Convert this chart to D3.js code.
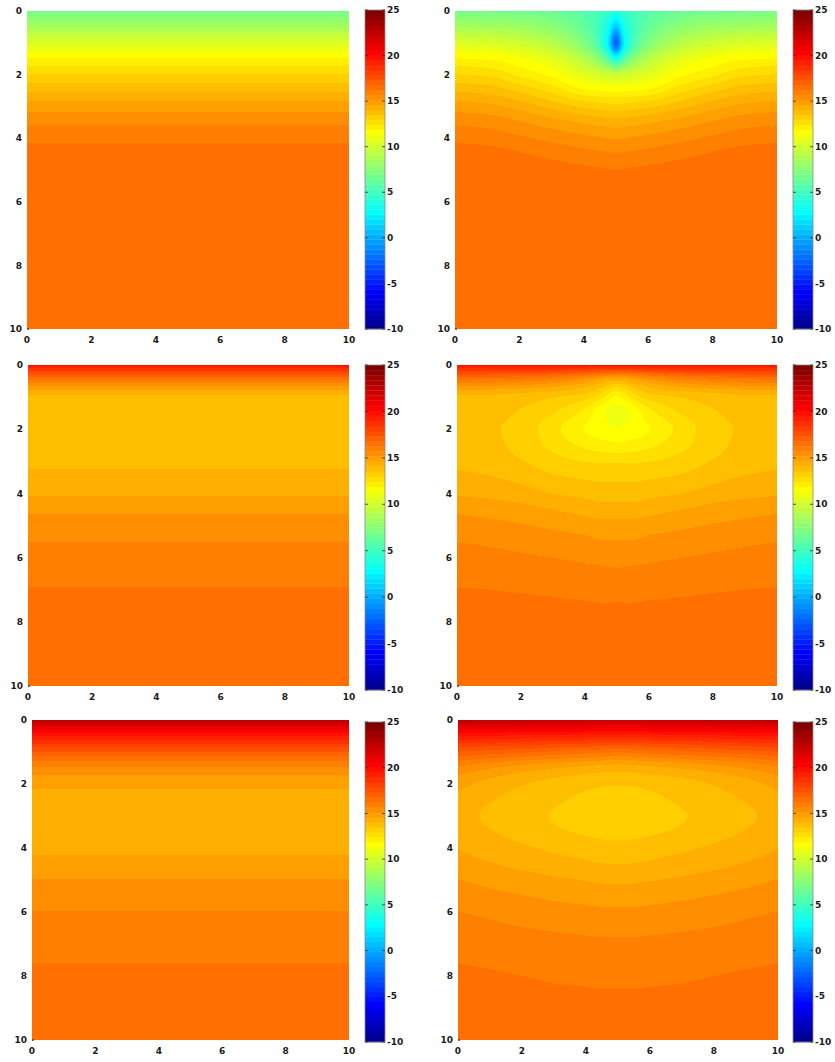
<!DOCTYPE html>
<html>
<head>
<meta charset="utf-8">
<script src="https://cdn.jsdelivr.net/npm/d3@7"></script>
<style>
  body { margin: 0; background: #fff; }
  svg { display: block; }
  text { font-family: "DejaVu Sans", sans-serif; font-weight: bold; font-size: 9px; fill: #1a1a1a; }
</style>
</head>
<body>
<svg id="chart" width="835" height="1062"></svg>
<script>
// tick labels
const xTicks = [0, 2, 4, 6, 8, 10];
const yTicks = [0, 2, 4, 6, 8, 10];
const cbTicks = [-10, -5, 0, 5, 10, 15, 20, 25];

// grid positions
const depths = [0, 0.5, 1, 1.5, 2, 2.5, 3, 3.5, 4, 4.5, 5, 5.5, 6, 7, 8, 10];
const xsEdge = [0, 10];
const xsCoarse = [0, 1, 2, 3, 4, 4.5, 5, 5.5, 6, 7, 8, 9, 10];
const xsFine = [0, 1, 2, 3, 4, 4.5, 4.75, 5, 5.25, 5.5, 6, 7, 8, 9, 10];

// left column: values only change with depth
const profileA = [6.8, 8.6, 10.4, 11.9, 13.0, 14.0, 14.9, 15.6, 16.1, 16.5, 16.5, 16.5, 16.5, 16.5, 16.5, 16.5];
const profileB = [19.8, 16.0, 14.0, 13.8, 13.75, 13.8, 13.95, 14.2, 14.55, 15.05, 15.4, 15.7, 15.9, 16.27, 16.45, 16.55];
const profileC = [22.6, 19.6, 17.3, 15.6, 14.75, 14.4, 14.3, 14.3, 14.45, 14.85, 15.18, 15.45, 15.72, 16.05, 16.35, 16.55];

// right column: one row per depth, one value per x position
const gridA = [
  [6.8, 6.8, 6.7, 6.4, 5.7, 5.1, 4.6, 4.3, 4.6, 5.1, 5.7, 6.4, 6.7, 6.8, 6.8],
  [8.6, 8.5, 8.3, 7.7, 6.3, 4.8, 3.4, 1.0, 3.4, 4.8, 6.3, 7.7, 8.3, 8.5, 8.6],
  [10.4, 10.3, 9.9, 9.1, 7.2, 5.0, 2.5, -2.5, 2.5, 5.0, 7.2, 9.1, 9.9, 10.3, 10.4],
  [11.9, 11.8, 11.4, 10.7, 9.1, 7.4, 5.8, 3.5, 5.8, 7.4, 9.1, 10.7, 11.4, 11.8, 11.9],
  [13.0, 12.85, 12.3, 11.7, 10.6, 10.1, 9.9, 9.7, 9.9, 10.1, 10.6, 11.7, 12.3, 12.85, 13.0],
  [14.0, 13.85, 13.4, 12.8, 12.0, 11.85, 11.8, 11.75, 11.8, 11.85, 12.0, 12.8, 13.4, 13.85, 14.0],
  [14.9, 14.75, 14.4, 13.9, 13.4, 13.25, 13.2, 13.15, 13.2, 13.25, 13.4, 13.9, 14.4, 14.75, 14.9],
  [15.6, 15.5, 15.2, 14.85, 14.55, 14.4, 14.35, 14.3, 14.35, 14.4, 14.55, 14.85, 15.2, 15.5, 15.6],
  [16.1, 16.0, 15.8, 15.55, 15.3, 15.2, 15.15, 15.1, 15.15, 15.2, 15.3, 15.55, 15.8, 16.0, 16.1],
  [16.5, 16.45, 16.3, 16.1, 15.9, 15.82, 15.78, 15.75, 15.78, 15.82, 15.9, 16.1, 16.3, 16.45, 16.5],
  [16.5, 16.5, 16.5, 16.45, 16.35, 16.3, 16.27, 16.25, 16.27, 16.3, 16.35, 16.45, 16.5, 16.5, 16.5],
  [16.5, 16.5, 16.5, 16.5, 16.5, 16.47, 16.45, 16.45, 16.45, 16.47, 16.5, 16.5, 16.5, 16.5, 16.5],
  [16.5, 16.5, 16.5, 16.5, 16.5, 16.5, 16.5, 16.5, 16.5, 16.5, 16.5, 16.5, 16.5, 16.5, 16.5],
  [16.5, 16.5, 16.5, 16.5, 16.5, 16.5, 16.5, 16.5, 16.5, 16.5, 16.5, 16.5, 16.5, 16.5, 16.5],
  [16.5, 16.5, 16.5, 16.5, 16.5, 16.5, 16.5, 16.5, 16.5, 16.5, 16.5, 16.5, 16.5, 16.5, 16.5],
  [16.5, 16.5, 16.5, 16.5, 16.5, 16.5, 16.5, 16.5, 16.5, 16.5, 16.5, 16.5, 16.5, 16.5, 16.5]
];

const gridB = [
  [19.8, 19.8, 19.8, 19.8, 19.8, 19.8, 19.8, 19.8, 19.8, 19.8, 19.8, 19.8, 19.8],
  [16.0, 15.95, 15.8, 15.5, 14.9, 14.4, 14.0, 14.4, 14.9, 15.5, 15.8, 15.95, 16.0],
  [14.0, 13.95, 13.8, 13.55, 13.2, 12.6, 11.8, 12.6, 13.2, 13.55, 13.8, 13.95, 14.0],
  [13.8, 13.7, 13.45, 13.0, 12.2, 11.5, 11.0, 11.5, 12.2, 13.0, 13.45, 13.7, 13.8],
  [13.75, 13.6, 13.3, 12.6, 11.85, 11.6, 11.4, 11.6, 11.85, 12.6, 13.3, 13.6, 13.75],
  [13.8, 13.65, 13.35, 12.8, 12.3, 12.1, 12.0, 12.1, 12.3, 12.8, 13.35, 13.65, 13.8],
  [13.95, 13.8, 13.55, 13.2, 12.95, 12.9, 12.9, 12.9, 12.95, 13.2, 13.55, 13.8, 13.95],
  [14.2, 14.1, 13.9, 13.6, 13.45, 13.4, 13.4, 13.4, 13.45, 13.6, 13.9, 14.1, 14.2],
  [14.55, 14.45, 14.3, 14.05, 13.9, 13.8, 13.8, 13.8, 13.9, 14.05, 14.3, 14.45, 14.55],
  [15.05, 14.95, 14.8, 14.6, 14.4, 14.3, 14.3, 14.3, 14.4, 14.6, 14.8, 14.95, 15.05],
  [15.4, 15.3, 15.2, 15.05, 14.9, 14.8, 14.8, 14.8, 14.9, 15.05, 15.2, 15.3, 15.4],
  [15.7, 15.62, 15.52, 15.42, 15.3, 15.2, 15.2, 15.2, 15.3, 15.42, 15.52, 15.62, 15.7],
  [15.9, 15.85, 15.78, 15.7, 15.6, 15.55, 15.5, 15.55, 15.6, 15.7, 15.78, 15.85, 15.9],
  [16.27, 16.25, 16.22, 16.18, 16.13, 16.1, 16.1, 16.1, 16.13, 16.18, 16.22, 16.25, 16.27],
  [16.45, 16.45, 16.44, 16.42, 16.41, 16.4, 16.4, 16.4, 16.41, 16.42, 16.44, 16.45, 16.45],
  [16.55, 16.55, 16.55, 16.55, 16.55, 16.55, 16.55, 16.55, 16.55, 16.55, 16.55, 16.55, 16.55]
];

const gridC = [
  [22.6, 22.5, 22.4, 22.3, 22.25, 22.2, 22.2, 22.2, 22.25, 22.3, 22.4, 22.5, 22.6],
  [19.6, 19.5, 19.4, 19.3, 19.25, 19.2, 19.2, 19.2, 19.25, 19.3, 19.4, 19.5, 19.6],
  [17.3, 17.1, 16.9, 16.7, 16.5, 16.4, 16.3, 16.4, 16.5, 16.7, 16.9, 17.1, 17.3],
  [15.6, 15.2, 14.9, 14.65, 14.45, 14.35, 14.3, 14.35, 14.45, 14.65, 14.9, 15.2, 15.6],
  [14.8, 14.4, 14.1, 13.85, 13.65, 13.57, 13.55, 13.57, 13.65, 13.85, 14.1, 14.4, 14.8],
  [14.45, 14.1, 13.85, 13.6, 13.4, 13.32, 13.3, 13.32, 13.4, 13.6, 13.85, 14.1, 14.45],
  [14.3, 13.95, 13.7, 13.48, 13.3, 13.22, 13.2, 13.22, 13.3, 13.48, 13.7, 13.95, 14.3],
  [14.4, 14.1, 13.85, 13.6, 13.45, 13.37, 13.35, 13.37, 13.45, 13.6, 13.85, 14.1, 14.4],
  [14.6, 14.35, 14.15, 13.95, 13.8, 13.72, 13.7, 13.72, 13.8, 13.95, 14.15, 14.35, 14.6],
  [14.85, 14.65, 14.45, 14.3, 14.15, 14.08, 14.06, 14.08, 14.15, 14.3, 14.45, 14.65, 14.85],
  [15.18, 15.0, 14.85, 14.7, 14.58, 14.52, 14.5, 14.52, 14.58, 14.7, 14.85, 15.0, 15.18],
  [15.45, 15.3, 15.18, 15.05, 14.95, 14.9, 14.9, 14.9, 14.95, 15.05, 15.18, 15.3, 15.45],
  [15.72, 15.6, 15.48, 15.38, 15.3, 15.26, 15.25, 15.26, 15.3, 15.38, 15.48, 15.6, 15.72],
  [16.05, 15.98, 15.92, 15.87, 15.82, 15.8, 15.8, 15.8, 15.82, 15.87, 15.92, 15.98, 16.05],
  [16.35, 16.3, 16.25, 16.2, 16.17, 16.15, 16.15, 16.15, 16.17, 16.2, 16.25, 16.3, 16.35],
  [16.55, 16.55, 16.55, 16.55, 16.55, 16.55, 16.55, 16.55, 16.55, 16.55, 16.55, 16.55, 16.55]
];

// MATLAB style jet(64)
function jet64() {
  const n = 16, m = 64;
  const u = [];
  for (let i = 1; i <= n; i++) u.push(i / n);
  for (let i = 1; i < n; i++) u.push(1);
  for (let i = n; i >= 1; i--) u.push(i / n);
  const cm = d3.range(m).map(() => [0, 0, 0]);
  u.forEach((v, k) => {
    const gi = 9 + k, ri = gi + n, bi = gi - n;
    if (gi <= m) cm[gi - 1][1] = v;
    if (ri <= m) cm[ri - 1][0] = v;
    if (bi >= 1) cm[bi - 1][2] = v;
  });
  return cm.map(c => c.map(v => Math.round(v * 255)));
}
const jet = jet64();
const level = d3.scaleQuantize().domain([-10, 25]).range(d3.range(64));

// monotone cubic through the grid values (shading between grid nodes)
function monotone(xs, vs) {
  const n = xs.length;
  if (n === 2) return t => vs[0] + (vs[1] - vs[0]) * (t - xs[0]) / (xs[1] - xs[0]);
  const h = [], d = [];
  for (let k = 0; k < n - 1; k++) { h.push(xs[k + 1] - xs[k]); d.push((vs[k + 1] - vs[k]) / h[k]); }
  const m = new Array(n);
  m[0] = d[0]; m[n - 1] = d[n - 2];
  for (let k = 1; k < n - 1; k++) {
    if (d[k - 1] * d[k] <= 0) m[k] = 0;
    else {
      const w1 = 2 * h[k] + h[k - 1], w2 = h[k] + 2 * h[k - 1];
      m[k] = (w1 + w2) / (w1 / d[k - 1] + w2 / d[k]);
    }
  }
  return t => {
    const i = Math.max(0, Math.min(d3.bisectRight(xs, t) - 1, n - 2));
    const s = Math.max(0, Math.min(1, (t - xs[i]) / h[i]));
    const s2 = s * s, s3 = s2 * s;
    return (2 * s3 - 3 * s2 + 1) * vs[i] + (s3 - 2 * s2 + s) * h[i] * m[i]
      + (-2 * s3 + 3 * s2) * vs[i + 1] + (s3 - s2) * h[i] * m[i + 1];
  };
}

const svg = d3.select("#chart");

const panels = [
  { xs: xsEdge,   rows: profileA.map(v => [v, v]), box: [27, 11, 349, 329],  cb: [365, 10, 385, 329] },
  { xs: xsFine,   rows: gridA,                     box: [455, 11, 777, 329], cb: [793, 10, 813, 329] },
  { xs: xsEdge,   rows: profileB.map(v => [v, v]), box: [28, 365, 349, 686], cb: [365, 365, 385, 690] },
  { xs: xsCoarse, rows: gridB,                     box: [457, 365, 777, 686], cb: [793, 365, 813, 690] },
  { xs: xsEdge,   rows: profileC.map(v => [v, v]), box: [32, 720, 349, 1040], cb: [365, 722, 385, 1042] },
  { xs: xsCoarse, rows: gridC,                     box: [458, 720, 778, 1040], cb: [793, 722, 813, 1042] }
];

panels.forEach(p => {
  const [x0, y0, x1, y1] = p.box;
  const x = d3.scaleLinear().domain([0, 10]).range([x0, x1]);
  const y = d3.scaleLinear().domain([0, 10]).range([y0, y1]);
  const w = x1 - x0, h = y1 - y0;

  const rowFns = p.rows.map(r => monotone(p.xs, r));
  const canvas = document.createElement("canvas");
  canvas.width = w; canvas.height = h;
  const ctx = canvas.getContext("2d");
  const img = ctx.createImageData(w, h);
  for (let c = 0; c < w; c++) {
    const dx = x.invert(x0 + c + 0.5);
    const colFn = monotone(depths, rowFns.map(f => f(dx)));
    for (let r = 0; r < h; r++) {
      const dy = y.invert(y0 + r + 0.5);
      const col = jet[level(colFn(dy))];
      const k = (r * w + c) * 4;
      img.data[k] = col[0]; img.data[k + 1] = col[1]; img.data[k + 2] = col[2]; img.data[k + 3] = 255;
    }
  }
  ctx.putImageData(img, 0, 0);
  svg.append("image").attr("x", x0).attr("y", y0).attr("width", w).attr("height", h)
    .attr("preserveAspectRatio", "none").attr("href", canvas.toDataURL());

  // axes labels
  svg.append("g").selectAll("text").data(yTicks).join("text")
    .attr("x", x0 - 5).attr("y", d => y(d)).attr("text-anchor", "end").attr("dy", "0.35em")
    .text(d => d);
  svg.append("g").selectAll("text").data(xTicks).join("text")
    .attr("x", d => x(d)).attr("y", y1 + 11).attr("text-anchor", "middle").attr("dy", "0.35em")
    .text(d => d);
  svg.append("line").attr("x1", x0).attr("x2", x0 + 2).attr("y1", y1).attr("y2", y1)
    .attr("stroke", "#6b3b16").attr("stroke-width", 1.5);

  // colorbar
  const [c0, t0, c1, b0] = p.cb;
  const cy = d3.scaleLinear().domain([-10, 25]).range([b0, t0]);
  const step = 35 / 64;
  svg.append("g").selectAll("rect").data(d3.range(64)).join("rect")
    .attr("x", c0).attr("width", c1 - c0)
    .attr("y", k => cy(-10 + (k + 1) * step))
    .attr("height", k => cy(-10 + k * step) - cy(-10 + (k + 1) * step) + 0.3)
    .attr("fill", k => d3.rgb(...jet[k]));
  svg.append("rect").attr("x", c0).attr("y", t0).attr("width", c1 - c0).attr("height", b0 - t0)
    .attr("fill", "none").attr("stroke", "#8a8a8a").attr("stroke-width", 0.8);
  const tk = svg.append("g");
  tk.selectAll(".tl").data(cbTicks).join("line")
    .attr("x1", c0).attr("x2", c0 + 3).attr("y1", d => cy(d)).attr("y2", d => cy(d))
    .attr("stroke", "#333").attr("stroke-width", 0.8);
  tk.selectAll(".tr").data(cbTicks).join("line")
    .attr("x1", c1 - 3).attr("x2", c1).attr("y1", d => cy(d)).attr("y2", d => cy(d))
    .attr("stroke", "#333").attr("stroke-width", 0.8);
  tk.selectAll("text").data(cbTicks).join("text")
    .attr("x", c1 + 2).attr("y", d => cy(d)).attr("dy", "0.35em")
    .text(d => d);
});
</script>
</body>
</html>
